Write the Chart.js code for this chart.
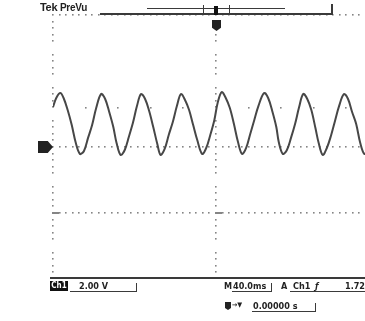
<!DOCTYPE html>
<html>
<head>
<meta charset="utf-8">
<script src="https://cdn.jsdelivr.net/npm/chart.js@4.4.1/dist/chart.umd.min.js"></script>
<style>
    html, body { margin: 0; padding: 0; background: #fff; overflow: hidden; width: 365px; height: 321px; }
    #scope { position: absolute; left: 0; top: 0; }
    .txt { position: absolute; font-family: "DejaVu Sans Condensed", "DejaVu Sans", sans-serif; font-size: 9px; font-weight: bold; color: #222; white-space: nowrap; line-height: 1; }
    .bar { position: absolute; background: #3a3a3a; }
    .shape { position: absolute; background: #222; }
</style>
</head>
<body>
<canvas id="scope" width="400" height="321"></canvas>

<!-- header: record view -->
<div class="txt" style="left:40px; top:2px; font-size:11px; font-family:'Liberation Sans', sans-serif; letter-spacing:-0.3px;">Tek <span style="font-size:10px;">PreVu</span></div>
<div class="bar" style="left:100px; top:13px; width:232px; height:2px;"></div>
<div class="bar" style="left:147px; top:8px; width:138px; height:1px;"></div>
<div class="bar" style="left:203px; top:5px; width:1px; height:9px;"></div>
<div class="bar" style="left:229px; top:5px; width:1px; height:9px;"></div>
<div class="bar" style="left:214px; top:6px; width:4px; height:9px; background:#111;"></div>
<div class="bar" style="left:331px; top:4px; width:2px; height:11px;"></div>
<div class="shape" style="left:212px; top:20px; width:9px; height:11px; clip-path:polygon(0 0,100% 0,100% 70%,50% 100%,0 70%);"></div>

<!-- ground marker -->
<div class="shape" style="left:38px; top:141px; width:15px; height:12px; clip-path:polygon(0 0,65% 0,100% 50%,65% 100%,0 100%);"></div>

<!-- readout -->
<div class="bar" style="left:50px; top:277px; width:315px; height:2px;"></div>
<div class="txt" style="left:50px; top:281px; width:18px; height:10px; background:#111; color:#fff; font-size:8px; text-align:center; padding-top:1px; box-sizing:border-box;">Ch1</div>
<div class="txt" style="left:79px; top:282px;">2.00 V</div>
<div class="bar" style="left:70px; top:291px; width:67px; height:1px;"></div>
<div class="bar" style="left:136px; top:283px; width:1px; height:9px;"></div>
<div class="txt" style="left:224px; top:282px;">M</div>
<div class="txt" style="left:233px; top:282px;">40.0ms</div>
<div class="bar" style="left:232px; top:291px; width:40px; height:1px;"></div>
<div class="bar" style="left:271px; top:283px; width:1px; height:9px;"></div>
<div class="txt" style="left:281px; top:282px;">A</div>
<div class="txt" style="left:293px; top:282px;">Ch1</div>
<div class="bar" style="left:290px; top:291px; width:75px; height:1px;"></div>
<div class="txt" style="left:315px; top:282px; font-style:italic;">ƒ</div>
<div class="txt" style="left:345px; top:282px;">1.72 V</div>
<div class="shape" style="left:225px; top:302px; width:6px; height:8px; clip-path:polygon(0 0,100% 0,100% 75%,50% 100%,0 75%);"></div>
<div class="txt" style="left:232px; top:302px; font-size:7px;">→▼</div>
<div class="txt" style="left:253px; top:302px;">0.00000 s</div>
<div class="bar" style="left:252px; top:311px; width:64px; height:1px;"></div>
<div class="bar" style="left:315px; top:303px; width:1px; height:9px;"></div>

<script>
// horizontal: 10 div x 40 ms, vertical: 8 div x 2 V
const timeRange = [-200, 200];
const voltRange = [-8, 8];

// graticule marks, in axis units
const denseRowsV = [8, 0, -4];
const sparseRowsV = [2.36];
const columnsMs = [-200, 0];

// Ch1 trace
const timeMs = [
    -200, -196, -191, -187, -182, -177, -172, -167, -162, -157,
    -152, -147, -141, -136, -131, -126, -122, -117, -112, -107,
    -102, -97, -92, -87, -82, -77, -72, -68, -63, -58,
    -53, -48, -43, -38, -33, -28, -23, -17, -12, -7,
    -2, 2, 7, 12, 17, 22, 27, 32, 37, 42,
    47, 52, 59, 64, 69, 74, 77, 82, 87, 92,
    97, 102, 107, 112, 117, 122, 126, 131, 136, 141,
    146, 151, 157, 162, 167, 172, 177, 182, 187,
];
const volts = [
    2.42, 2.97, 3.27, 2.97, 2.24, 1.33, 0.24, -0.42, -0.24, 0.55,
    1.33, 2.36, 3.21, 2.91, 2.12, 1.21, 0.24, -0.48, -0.18, 0.61,
    1.45, 2.48, 3.21, 2.91, 2.18, 1.21, 0.18, -0.48, -0.12, 0.73,
    1.52, 2.48, 3.21, 2.85, 2.24, 1.33, 0.42, -0.42, -0.06, 0.73,
    1.64, 2.67, 3.33, 2.97, 2.36, 1.39, 0.30, -0.42, -0.06, 0.79,
    1.64, 2.48, 3.27, 2.97, 2.18, 1.21, 0.30, -0.42, -0.18, 0.55,
    1.39, 2.42, 3.21, 2.91, 2.24, 1.15, 0.24, -0.48, -0.06, 0.67,
    1.58, 2.48, 3.21, 2.91, 2.12, 1.39, 0.24, -0.42, -0.18,
];

const graticule = {
    id: 'graticule',
    beforeDatasetsDraw(chart) {
        const { ctx, scales: { x, y } } = chart;
        const minorX = (timeRange[1] - timeRange[0]) / 50;
        const minorY = (voltRange[1] - voltRange[0]) / 40;
        const dot = (t, v) => {
            ctx.fillRect(Math.round(x.getPixelForValue(t)) - 1, Math.round(y.getPixelForValue(v)) - 1, 1.6, 1.6);
        };
        ctx.save();
        ctx.fillStyle = '#858585';

        denseRowsV.forEach((v) => {
            for (let i = 0; i <= 50; i++) dot(timeRange[0] + i * minorX, v);
        });
        sparseRowsV.forEach((v) => {
            for (let i = 1; i < 10; i++) {
                const t = timeRange[0] + i * minorX * 5;
                if (!columnsMs.includes(t)) dot(t, v);
            }
        });
        columnsMs.forEach((t) => {
            for (let i = 0; i <= 40; i++) {
                if (i % 5 === 0) continue;
                dot(t, voltRange[0] + i * minorY);
            }
            // heavier mark where the -4 V row crosses
            ctx.fillRect(Math.round(x.getPixelForValue(t)) - 1, Math.round(y.getPixelForValue(-4)) - 1, 7, 2);
        });
        ctx.restore();
    },
};

new Chart(document.getElementById('scope'), {
    type: 'line',
    data: {
        datasets: [{
            data: timeMs.map((t, i) => ({ x: t, y: volts[i] })),
            borderColor: '#474747',
            borderWidth: 2,
            pointRadius: 0,
            tension: 0.35,
            fill: false,
        }],
    },
    options: {
        responsive: false,
        animation: false,
        layout: { padding: { left: 53, top: 15, right: 21, bottom: 42 } },
        plugins: { legend: { display: false }, tooltip: { enabled: false } },
        scales: {
            x: { type: 'linear', min: timeRange[0], max: timeRange[1], display: false },
            y: { type: 'linear', min: voltRange[0], max: voltRange[1], display: false },
        },
    },
    plugins: [graticule],
});
</script>
</body>
</html>
